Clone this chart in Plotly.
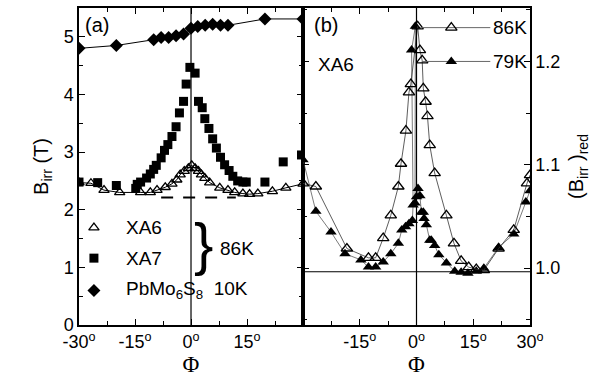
import plotly.graph_objects as go

# ---------------- data ----------------
# panel (a): B_irr (T) vs angle Phi (deg)
pb_x = [-30, -20, -10, -8, -6, -4, -2, 0, 1.8, 3.8, 5.8, 7.9, 9.9, 19.8, 30]
pb_y = [4.80, 4.85, 4.95, 4.99, 4.99, 5.02, 5.05, 5.15, 5.18, 5.20, 5.22, 5.20, 5.20, 5.31, 5.31]

xa7_x = [-30, -25, -20, -14.8, -14.4, -13.5, -11.9, -10.9, -10.0, -9.3, -8.0, -7.1, -6.2, -5.1,
         -4.0, -3.1, -2.0, -1.3, -0.3, 1.1, 2.0, 3.0, 3.7, 4.8, 5.8, 6.8, 7.9, 9.0, 10.2,
         11.2, 12.5, 13.9, 14.8, 19.8, 24.7, 29.6]
xa7_y = [2.48, 2.47, 2.42, 2.37, 2.44, 2.48, 2.55, 2.62, 2.70, 2.77, 2.90, 3.03, 3.13, 3.27,
         3.44, 3.68, 3.88, 4.18, 4.47, 4.37, 3.88, 3.77, 3.58, 3.41, 3.23, 3.07, 2.91, 2.78, 2.68,
         2.58, 2.50, 2.48, 2.48, 2.48, 2.83, 2.95]

xa6a_x = [-30, -26.8, -23.3, -19.1, -13.5, -10.9, -9.1, -6.9, -5.1, -3.8, -2.9, -1.8, -0.7, 0.2,
          1.1, 2.0, 2.8, 3.7, 5.0, 7.7, 9.9, 11.7, 13.9, 15.7, 17.9, 21.8, 25.4, 30]
xa6a_y = [2.47, 2.46, 2.34, 2.30, 2.30, 2.30, 2.34, 2.39, 2.45, 2.52, 2.61, 2.67, 2.72, 2.77,
          2.72, 2.67, 2.61, 2.55, 2.47, 2.38, 2.34, 2.30, 2.28, 2.27, 2.28, 2.32, 2.38, 2.45]

base_x = [-8, 12]
base_y = [2.21, 2.21]

# panel (b): reduced B_irr of XA6 at 86K (open) and 79K (filled)
k86_x = [-30, -26.6, -18.4, -12.7, -10.8, -8.8, -6.8, -4.8, -4.1, -2.8, -2.0, -1.5, 0.3, 0.9,
         1.5, 1.8, 2.4, 2.9, 3.5, 4.8, 7.9, 9.9, 11.8, 13.8, 15.8, 17.8, 21.7, 25.7, 29.2, 30]
k86_y = [1.082, 1.079, 1.019, 1.010, 1.010, 1.029, 1.051, 1.079, 1.101, 1.133, 1.170, 1.178,
         1.234, 1.211, 1.201, 1.174, 1.161, 1.147, 1.119, 1.092, 1.051, 1.024, 1.007, 1.001,
         0.999, 0.998, 1.019, 1.037, 1.082, 1.090]

k79_x = [-30, -26.6, -22.6, -18.9, -14.7, -12.7, -10.8, -8.8, -6.8, -4.8, -3.9, -2.9, -2.0, -1.1,
         -0.9, -1.3, -0.3, -0.4, 0.0, 0.4, 0.9, 1.3, 1.8, 2.0, 2.6, 3.5, 3.9, 4.8, 5.9, 7.9,
         10.1, 11.8, 13.6, 15.8, 17.8, 21.7, 25.7, 28.9, 30]
k79_y = [1.105, 1.055, 1.035, 1.014, 1.008, 1.001, 1.001, 1.006, 1.014, 1.024, 1.037, 1.040,
         1.043, 1.046, 1.061, 1.211, 1.234, 1.063, 1.069, 1.077, 1.070, 1.054, 1.054, 1.048,
         1.042, 1.027, 1.027, 1.022, 1.013, 1.005, 0.997, 0.996, 0.995, 0.997, 1.000, 1.020,
         1.033, 1.064, 1.075]

xa_ticks = [-30, -15, 0, 15]
xb_ticks = [-15, 0, 15, 30]
ya_ticks = [0, 1, 2, 3, 4, 5]
yb_ticks = [1.0, 1.1, 1.2]

FONT = "Liberation Sans"
SERIF = "Liberation Serif"
SPLIT = 0.4967

fig = go.Figure()

# panel a traces
fig.add_trace(go.Scatter(x=pb_x, y=pb_y, mode="lines+markers", xaxis="x", yaxis="y",
                         line=dict(color="black", width=1),
                         marker=dict(symbol="diamond", size=10, color="black")))
fig.add_trace(go.Scatter(x=base_x, y=base_y, mode="lines", xaxis="x", yaxis="y",
                         line=dict(color="black", width=2, dash="12px,10px")))
fig.add_trace(go.Scatter(x=xa6a_x, y=xa6a_y, mode="lines+markers", xaxis="x", yaxis="y",
                         line=dict(color="black", width=1),
                         marker=dict(symbol="triangle-up-open", size=9, color="black",
                                     line=dict(width=1.3, color="black"))))
fig.add_trace(go.Scatter(x=xa7_x, y=xa7_y, mode="markers", xaxis="x", yaxis="y",
                         marker=dict(symbol="square", size=9, color="black")))

# panel a legend markers
leg_y = [1.69, 1.16, 0.60]
fig.add_trace(go.Scatter(x=[-26], y=[leg_y[0]], mode="markers", xaxis="x", yaxis="y",
                         marker=dict(symbol="triangle-up-open", size=9, color="black",
                                     line=dict(width=1.3, color="black"))))
fig.add_trace(go.Scatter(x=[-26], y=[leg_y[1]], mode="markers", xaxis="x", yaxis="y",
                         marker=dict(symbol="square", size=9, color="black")))
fig.add_trace(go.Scatter(x=[-26], y=[leg_y[2]], mode="markers", xaxis="x", yaxis="y",
                         marker=dict(symbol="diamond", size=10, color="black")))

# panel b traces
fig.add_trace(go.Scatter(x=k79_x, y=k79_y, mode="lines+markers", xaxis="x2", yaxis="y2",
                         line=dict(color="#444", width=0.7),
                         marker=dict(symbol="triangle-up", size=10, color="black")))
fig.add_trace(go.Scatter(x=k86_x, y=k86_y, mode="lines+markers", xaxis="x2", yaxis="y2",
                         line=dict(color="#333", width=0.8),
                         marker=dict(symbol="triangle-up-open", size=10, color="black",
                                     line=dict(width=1.3, color="black"))))
# panel b legend
fig.add_trace(go.Scatter(x=[1.0, 19.5], y=[1.2327, 1.2327], mode="lines", xaxis="x2", yaxis="y2",
                         line=dict(color="#666", width=1)))
fig.add_trace(go.Scatter(x=[1.5, 19.5], y=[1.2, 1.2], mode="lines", xaxis="x2", yaxis="y2",
                         line=dict(color="#666", width=1)))
fig.add_trace(go.Scatter(x=[9.2], y=[1.2327], mode="markers", xaxis="x2", yaxis="y2",
                         marker=dict(symbol="triangle-up-open", size=10, color="black",
                                     line=dict(width=1.3, color="black"))))
fig.add_trace(go.Scatter(x=[9.2], y=[1.2], mode="markers", xaxis="x2", yaxis="y2",
                         marker=dict(symbol="triangle-up", size=10, color="black")))

ax_common = dict(showgrid=False, zeroline=False, showline=True, linecolor="black", linewidth=1.5,
                 ticks="inside", ticklen=6, tickwidth=1.2, tickcolor="black", mirror="ticks",
                 tickfont=dict(family=FONT, size=18, color="black"))

def deg(v):
    return f"{v}<sup>o</sup>"

fig.update_layout(
    width=600, height=380, margin=dict(l=79, r=70, t=6, b=55),
    paper_bgcolor="white", plot_bgcolor="white", showlegend=False,
    xaxis=dict(domain=[0, SPLIT], range=[-30, 30], anchor="y",
               tickvals=xa_ticks, ticktext=[deg(v) for v in xa_ticks],
               minor=dict(tickvals=[-22.5, -7.5, 7.5, 22.5], ticks="inside", ticklen=4, tickcolor="black"),
               title=dict(text="Φ", font=dict(family=SERIF, size=23, color="black"), standoff=2),
               **ax_common),
    yaxis=dict(domain=[0, 1], range=[0, 5.5], anchor="x",
               tickvals=ya_ticks, ticktext=[str(v) for v in ya_ticks],
               minor=dict(tickvals=[0.5, 1.5, 2.5, 3.5, 4.5], ticks="inside", ticklen=4, tickcolor="black"),
               title=dict(text="B<sub>irr</sub> (T)", font=dict(family=FONT, size=20, color="black"), standoff=10),
               **ax_common),
    xaxis2=dict(domain=[SPLIT, 1], range=[-30, 30], anchor="y2",
                tickvals=xb_ticks, ticktext=[deg(v) for v in xb_ticks],
                minor=dict(tickvals=[-22.5, -7.5, 7.5, 22.5], ticks="inside", ticklen=4, tickcolor="black"),
                title=dict(text="Φ", font=dict(family=SERIF, size=23, color="black"), standoff=2),
                **ax_common),
    yaxis2=dict(domain=[0, 1], range=[0.945, 1.2517], anchor="x2", side="right",
                tickvals=yb_ticks, ticktext=["1.0", "1.1", "1.2"],
                minor=dict(tickvals=[0.95, 1.05, 1.15, 1.25], ticks="inside", ticklen=4, tickcolor="black"),
                title=dict(text="(B<sub>irr</sub> )<sub>red</sub>", font=dict(family=FONT, size=20, color="black"), standoff=10),
                **ax_common),
)

# vertical lines at 0 and horizontal reference line
fig.add_shape(type="line", xref="x", yref="paper", x0=0, x1=0, y0=0, y1=1, line=dict(color="black", width=1.2))
fig.add_shape(type="line", xref="x2", yref="paper", x0=0, x1=0, y0=0, y1=1, line=dict(color="black", width=1.2))
fig.add_shape(type="line", xref="x2 domain", yref="y2", x0=0, x1=1, y0=0.9965, y1=0.9965,
              line=dict(color="black", width=1.2))

def txt(x, y, s, xref="x", yref="y", size=18, anchor="left", family=FONT):
    fig.add_annotation(x=x, y=y, xref=xref, yref=yref, text=s, showarrow=False,
                       xanchor=anchor, yanchor="middle", font=dict(family=family, size=size, color="black"))

txt(-29, 5.2, "(a)", size=20)
txt(-18, leg_y[0], "XA6", size=19)
txt(-18, leg_y[1], "XA7", size=19)
txt(-18, leg_y[2], "PbMo<sub>6</sub>S<sub>8</sub>  10K", size=19)
txt(0.2, 1.41, "}", size=58)
txt(7.3, 1.33, "86K", size=19)

txt(-27.5, 1.235, "(b)", xref="x2", yref="y2", size=20)
txt(-26.5, 1.197, "XA6", xref="x2", yref="y2", size=19)
txt(19.6, 1.2327, "86K", xref="x2", yref="y2", size=19)
txt(19.6, 1.2, "79K", xref="x2", yref="y2", size=19)

fig.write_html("out.html")
